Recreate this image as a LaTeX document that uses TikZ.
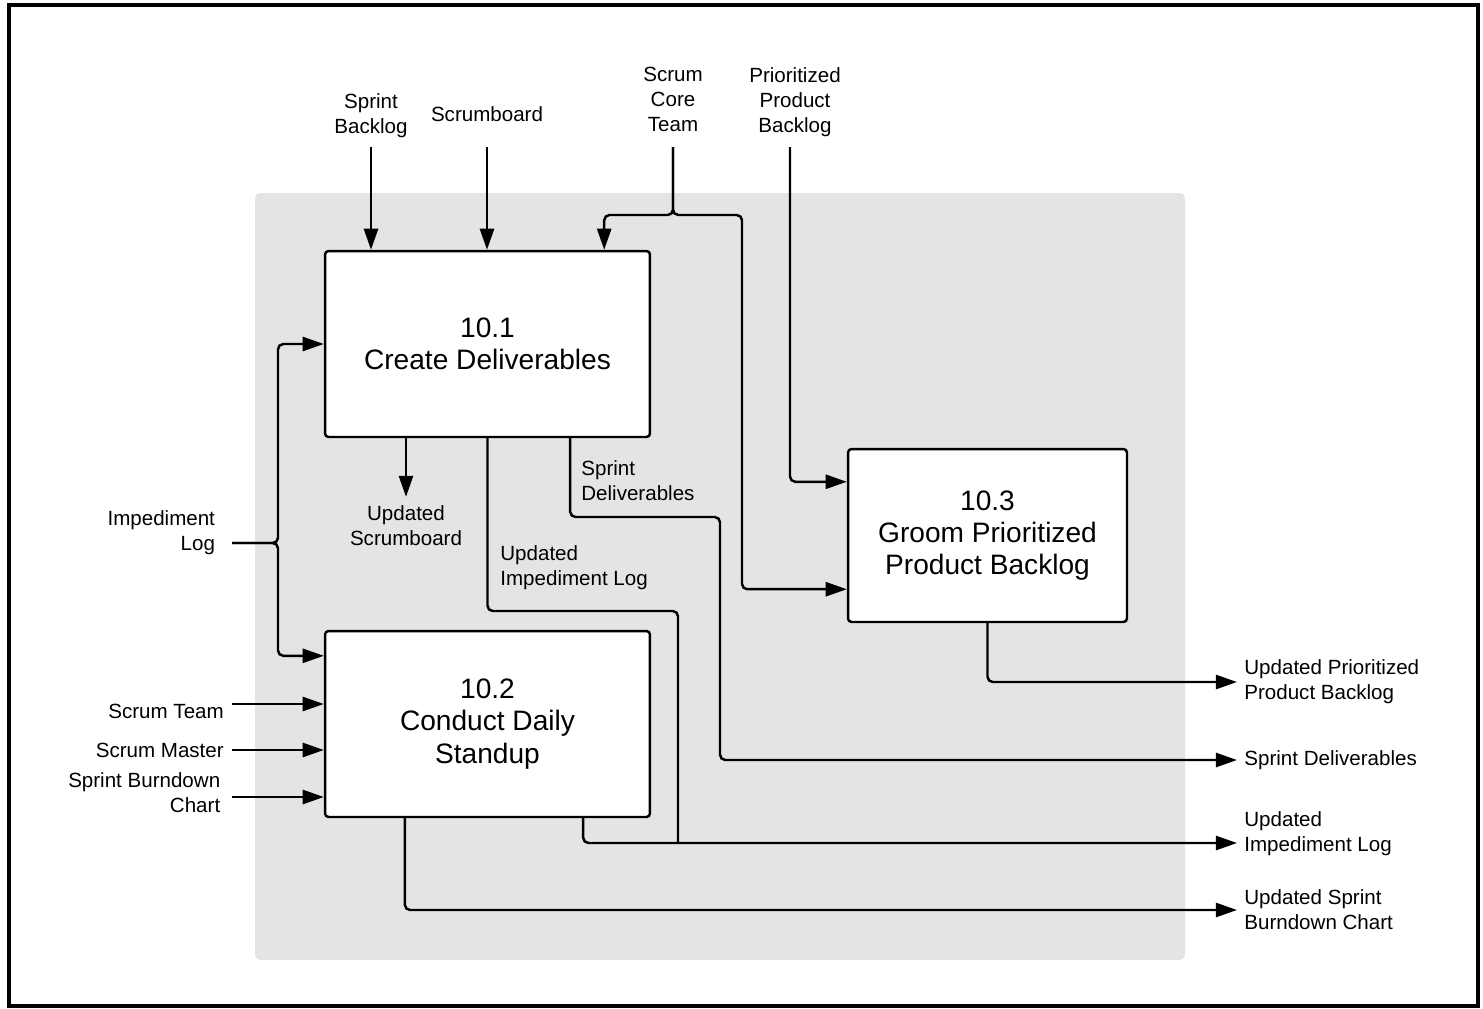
\documentclass[tikz,border=0pt]{standalone}
\usepackage{fontspec}
\setmainfont{Liberation Sans}
\usepackage{tikz}
\usetikzlibrary{arrows.meta,positioning,calc}
\definecolor{panelgray}{RGB}{228,228,228}

\begin{document}
\begin{tikzpicture}[
  x=0.02cm, y=-0.02cm,
  every node/.style={font=\fontsize{11.7}{14.2}\selectfont},
  proc/.style={draw, line width=1.4pt, rounded corners=2pt, fill=white, align=center, inner sep=0pt,
    font=\fontsize{16}{18.3}\selectfont},
  inlbl/.style={align=center, inner sep=5pt},
  sidelbl/.style={align=right, anchor=east, inner xsep=4.5pt},
  outlbl/.style={align=left, anchor=west, inner xsep=4pt},
  wire/.style={line width=1.4pt, rounded corners=3pt},
  flow/.style={wire, -{Triangle[length=12pt, width=8pt]}},
]
\useasboundingbox (0,0) rectangle (1483,1008);
\draw[line width=2pt] (9,5) rectangle (1478,1006);
\fill[panelgray, rounded corners=3pt] (255,193) rectangle (1185,960);

% processes
\node[proc, minimum width=6.5cm, minimum height=3.72cm] (cd) at (487.5,344) {10.1\\Create Deliverables};
\node[proc, minimum width=6.5cm, minimum height=3.72cm] (ds) at (487.5,724) {10.2\\Conduct Daily\\Standup};
\node[proc, minimum width=5.58cm, minimum height=3.46cm] (gp) at (987.5,535.5) {10.3\\Groom Prioritized\\Product Backlog};

% inputs from the top
\node[inlbl, anchor=south] (sbl) at (371,147) {Sprint\\Backlog};
\node[inlbl] (sbd) at (487,114) {Scrumboard};
\node[inlbl] (sct) at (673,99) {Scrum\\Core\\Team};
\node[inlbl] (ppb) at (795,102) {Prioritized\\Product\\Backlog};

\coordinate (sct-j) at (673,215);
\coordinate (sct-r) at (742,215);
\coordinate (cd-in3) at ($(cd.north east)+(-47,0)$);
\coordinate (gp-in1) at ($(gp.north west)+(0,34)$);
\coordinate (gp-in2) at ($(gp.south west)+(0,-34)$);

\draw[flow] (sbl.south) -- (sbl.south |- cd.north);
\draw[flow] (sbd |- sbl.south) -- (sbd |- cd.north);
\draw[flow] (sct |- sbl.south) -- (sct-j) -| (cd-in3);
\draw[flow] (sct |- sbl.south) -- (sct-j) -- (sct-r) |- (gp-in2);
\draw[flow] ($(ppb |- sbl.south)+(-5,0)$) |- (gp-in1);

% inputs from the left
\node[sidelbl, inner xsep=9.5pt] (imp) at (232,533) {Impediment\\Log};
\node[sidelbl] (st) at (232,711) {Scrum Team};
\node[sidelbl] (sm) at (232,750) {Scrum Master};
\node[sidelbl, inner xsep=6.5pt] (sbc) at (232,793) {Sprint Burndown\\Chart};

\coordinate (imp-j) at (278,543);
\coordinate (ds-in1) at ($(ds.north west)+(0,26)$);
\coordinate (ds-in2) at ($(ds.west)+(0,-20)$);
\coordinate (ds-in3) at ($(ds.west)+(0,26)$);
\coordinate (ds-in4) at ($(ds.west)+(0,73)$);

\draw[flow] (imp.east |- imp-j) -- (imp-j) |- (cd.west);
\draw[flow] (imp.east |- imp-j) -- (imp-j) |- (ds-in1);
\draw[flow] (st.east |- ds-in2) -- (ds-in2);
\draw[flow] (sm.east |- ds-in3) -- (ds-in3);
\draw[flow] (sbc.east |- ds-in4) -- (ds-in4);

% outputs
\node[inlbl] (usb) at (406,526) {Updated\\Scrumboard};
\node[outlbl] (uil) at (493,568) {Updated\\Impediment Log};
\node[outlbl] (sdl) at (574,481) {Sprint\\Deliverables};

\node[outlbl] (upbo) at (1237,682) {Updated Prioritized\\Product Backlog};
\node[outlbl] (sdo) at (1237,760) {Sprint Deliverables};
\node[outlbl] (uilo) at (1237,834) {Updated\\Impediment Log};
\node[outlbl] (usbc) at (1237,910) {Updated Sprint\\Burndown Chart};

\coordinate (cd-out3) at ($(cd.south east)+(-81,0)$);
\coordinate (cd-ui) at (678,611);
\coordinate (sd-bend) at (720,517);
\coordinate (ds-out1) at ($(ds.south west)+(81,0)$);
\coordinate (ds-out2) at ($(ds.south east)+(-68,0)$);
\coordinate (uil-end) at ($(uilo.west)+(0,9)$);

\draw[flow] (cd.south -| usb) -- (usb.north);
\draw[wire] (cd.south) |- (cd-ui) -- (cd-ui |- uil-end);
\draw[flow] (cd-out3) |- (sd-bend) |- (sdo.west);
\draw[flow] (ds-out2) |- (uil-end);
\draw[flow] (ds-out1) |- (usbc.west);
\draw[flow] (gp.south) |- (upbo.west);
\end{tikzpicture}
\end{document}
